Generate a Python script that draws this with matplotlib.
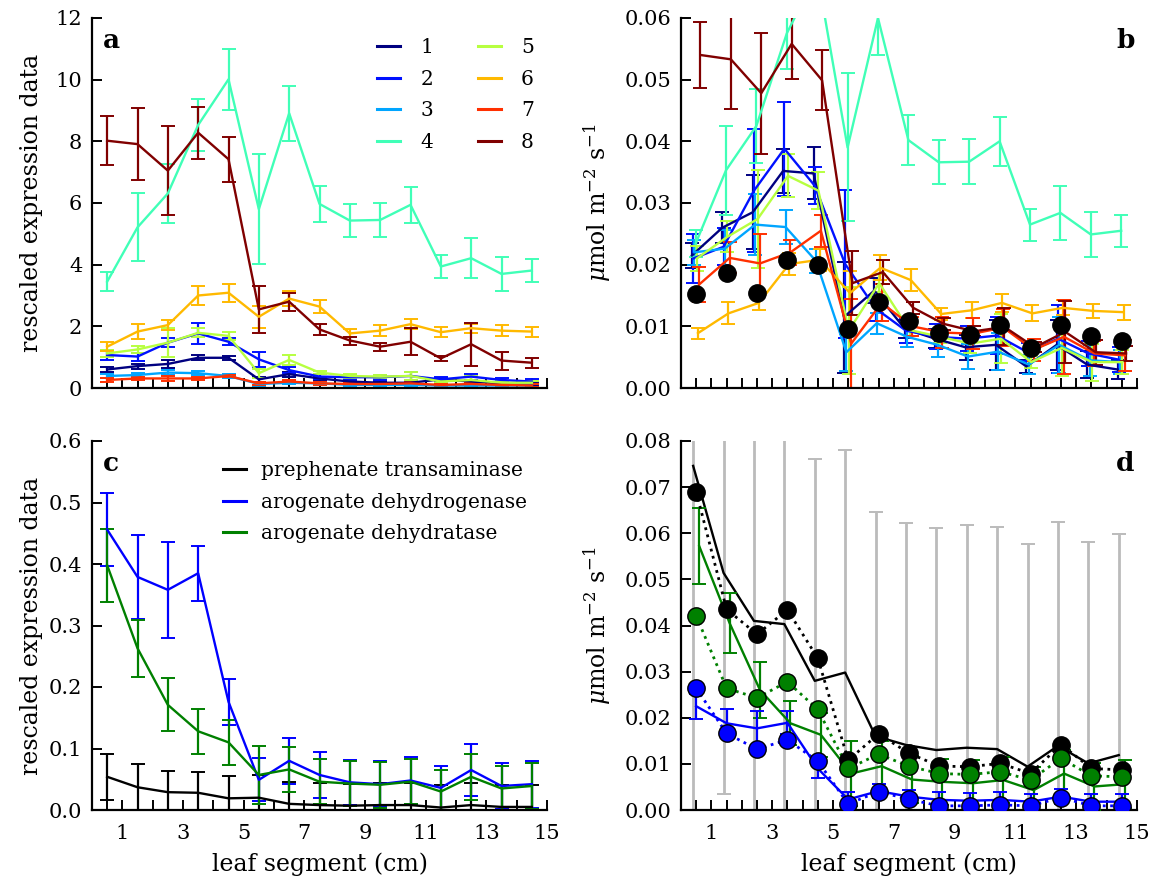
import matplotlib
matplotlib.use("Agg")
import matplotlib.pyplot as plt
from matplotlib.lines import Line2D
import numpy as np

plt.rcParams['font.family'] = ['DejaVu Serif']
plt.rcParams['mathtext.fontset'] = 'dejavuserif'

# leaf segment centres (cm)
segment = [0.5, 1.5, 2.5, 3.5, 4.5, 5.5, 6.5, 7.5, 8.5, 9.5, 10.5, 11.5, 12.5, 13.5, 14.5]

# ---- panel a: rescaled expression data, genes 1..8
a_labels = ['1', '2', '3', '4', '5', '6', '7', '8']
a1 = [0.60, 0.71, 0.78, 0.98, 0.98, 0.28, 0.45, 0.31, 0.21, 0.17, 0.17, 0.28, 0.21, 0.15, 0.13]
a1_err = [0.08, 0.08, 0.12, 0.08, 0.07, 0.08, 0.08, 0.06, 0.05, 0.05, 0.05, 0.06, 0.05, 0.05, 0.05]
a2 = [1.07, 1.02, 1.47, 1.77, 1.50, 0.93, 0.58, 0.37, 0.35, 0.35, 0.39, 0.28, 0.37, 0.26, 0.21]
a2_err = [0.16, 0.13, 0.15, 0.35, 0.12, 0.25, 0.10, 0.08, 0.08, 0.08, 0.13, 0.08, 0.10, 0.08, 0.08]
a3 = [0.39, 0.42, 0.50, 0.48, 0.39, 0.13, 0.17, 0.15, 0.10, 0.10, 0.10, 0.08, 0.08, 0.08, 0.08]
a3_err = [0.06, 0.06, 0.08, 0.07, 0.05, 0.05, 0.05, 0.05, 0.04, 0.04, 0.04, 0.04, 0.04, 0.04, 0.04]
a4 = [3.45, 5.21, 6.31, 8.53, 10.01, 5.80, 8.91, 5.97, 5.43, 5.45, 5.94, 3.94, 4.21, 3.70, 3.81]
a4_err = [0.32, 1.10, 0.95, 0.84, 1.00, 1.78, 0.90, 0.58, 0.54, 0.54, 0.58, 0.38, 0.65, 0.55, 0.38]
a5 = [1.12, 1.25, 1.47, 1.79, 1.69, 0.48, 0.91, 0.50, 0.39, 0.37, 0.39, 0.21, 0.26, 0.17, 0.17]
a5_err = [0.12, 0.12, 0.46, 0.15, 0.12, 0.15, 0.15, 0.06, 0.05, 0.05, 0.12, 0.05, 0.12, 0.05, 0.05]
a6 = [1.34, 1.83, 2.04, 3.00, 3.09, 2.31, 2.90, 2.64, 1.77, 1.86, 2.07, 1.81, 1.94, 1.86, 1.83]
a6_err = [0.15, 0.25, 0.17, 0.30, 0.29, 0.35, 0.25, 0.22, 0.13, 0.18, 0.17, 0.16, 0.15, 0.17, 0.16]
a7 = [0.26, 0.31, 0.31, 0.31, 0.39, 0.15, 0.21, 0.15, 0.13, 0.13, 0.15, 0.10, 0.13, 0.10, 0.08]
a7_err = [0.06, 0.06, 0.08, 0.05, 0.04, 0.05, 0.05, 0.04, 0.04, 0.04, 0.04, 0.04, 0.04, 0.04, 0.04]
a8 = [8.02, 7.91, 7.05, 8.28, 7.42, 2.55, 2.80, 1.90, 1.54, 1.34, 1.50, 0.96, 1.42, 0.89, 0.82]
a8_err = [0.80, 1.16, 1.45, 0.84, 0.73, 0.76, 0.29, 0.18, 0.13, 0.13, 0.44, 0.09, 0.70, 0.29, 0.16]

# ---- panel b: flux (umol m-2 s-1), genes 1..8 plus measured (black dots)
b1 = [0.0215, 0.0260, 0.0285, 0.0352, 0.0348, 0.0115, 0.0158, 0.0096, 0.0080, 0.0066, 0.0070, 0.0035, 0.0070, 0.0038, 0.0030]
b1_err = [0.0020, 0.0025, 0.0060, 0.0035, 0.0042, 0.0090, 0.0020, 0.0015, 0.0015, 0.0020, 0.0040, 0.0010, 0.0040, 0.0022, 0.0015]
b2 = [0.0210, 0.0229, 0.0320, 0.0388, 0.0328, 0.0201, 0.0129, 0.0093, 0.0083, 0.0080, 0.0085, 0.0058, 0.0080, 0.0056, 0.0046]
b2_err = [0.0040, 0.0030, 0.0100, 0.0076, 0.0030, 0.0120, 0.0020, 0.0020, 0.0020, 0.0020, 0.0030, 0.0015, 0.0055, 0.0020, 0.0020]
b3 = [0.0220, 0.0226, 0.0265, 0.0261, 0.0206, 0.0058, 0.0105, 0.0083, 0.0070, 0.0051, 0.0059, 0.0038, 0.0070, 0.0045, 0.0042]
b3_err = [0.0020, 0.0030, 0.0050, 0.0028, 0.0020, 0.0030, 0.0017, 0.0016, 0.0020, 0.0020, 0.0030, 0.0015, 0.0045, 0.0025, 0.0020]
b4 = [0.0234, 0.0353, 0.0425, 0.0575, 0.0673, 0.0390, 0.0600, 0.0402, 0.0366, 0.0367, 0.0400, 0.0265, 0.0284, 0.0249, 0.0255]
b4_err = [0.0022, 0.0072, 0.0060, 0.0057, 0.0067, 0.0120, 0.0060, 0.0040, 0.0036, 0.0036, 0.0040, 0.0026, 0.0044, 0.0037, 0.0026]
b5 = [0.0210, 0.0245, 0.0274, 0.0344, 0.0320, 0.0093, 0.0170, 0.0094, 0.0083, 0.0072, 0.0080, 0.0042, 0.0065, 0.0042, 0.0042]
b5_err = [0.0020, 0.0025, 0.0080, 0.0035, 0.0030, 0.0070, 0.0015, 0.0010, 0.0010, 0.0015, 0.0040, 0.0010, 0.0045, 0.0030, 0.0020]
b6 = [0.0089, 0.0121, 0.0138, 0.0201, 0.0208, 0.0154, 0.0195, 0.0175, 0.0120, 0.0126, 0.0138, 0.0121, 0.0130, 0.0125, 0.0123]
b6_err = [0.0009, 0.0018, 0.0012, 0.0018, 0.0018, 0.0035, 0.0020, 0.0018, 0.0010, 0.0013, 0.0014, 0.0013, 0.0012, 0.0012, 0.0012]
b7 = [0.0168, 0.0211, 0.0202, 0.0220, 0.0255, 0.0072, 0.0138, 0.0100, 0.0090, 0.0088, 0.0098, 0.0062, 0.0083, 0.0056, 0.0053]
b7_err = [0.0028, 0.0025, 0.0047, 0.0020, 0.0026, 0.0072, 0.0030, 0.0015, 0.0025, 0.0025, 0.0030, 0.0018, 0.0060, 0.0020, 0.0025]
b8 = [0.0540, 0.0533, 0.0478, 0.0558, 0.0499, 0.0170, 0.0188, 0.0130, 0.0104, 0.0092, 0.0099, 0.0066, 0.0091, 0.0058, 0.0056]
b8_err = [0.0054, 0.0080, 0.0098, 0.0057, 0.0049, 0.0052, 0.0020, 0.0010, 0.0010, 0.0008, 0.0030, 0.0008, 0.0050, 0.0020, 0.0012]
b_measured = [0.0152, 0.0186, 0.0154, 0.0208, 0.0199, 0.0096, 0.0139, 0.0108, 0.0090, 0.0086, 0.0102, 0.0065, 0.0102, 0.0084, 0.0076]

# ---- panel c: rescaled expression of three enzymes
c_labels = ['prephenate transaminase', 'arogenate dehydrogenase', 'arogenate dehydratase']
c_pt = [0.054, 0.037, 0.029, 0.028, 0.019, 0.020, 0.010, 0.008, 0.007, 0.008, 0.008, 0.004, 0.008, 0.005, 0.005]
c_pt_err = [0.037, 0.037, 0.035, 0.034, 0.036, 0.037, 0.036, 0.036, 0.036, 0.036, 0.036, 0.036, 0.036, 0.036, 0.036]
c_adh = [0.456, 0.379, 0.358, 0.385, 0.176, 0.049, 0.080, 0.057, 0.045, 0.042, 0.048, 0.036, 0.065, 0.039, 0.042]
c_adh_err = [0.060, 0.068, 0.078, 0.045, 0.037, 0.035, 0.037, 0.037, 0.037, 0.037, 0.038, 0.036, 0.043, 0.037, 0.038]
c_adt = [0.398, 0.263, 0.171, 0.128, 0.110, 0.057, 0.066, 0.046, 0.043, 0.041, 0.046, 0.030, 0.054, 0.035, 0.039]
c_adt_err = [0.059, 0.046, 0.043, 0.037, 0.037, 0.047, 0.037, 0.037, 0.037, 0.037, 0.037, 0.035, 0.037, 0.037, 0.037]

# ---- panel d: predicted (lines) vs measured (dots) flux
d_pt_pred = [0.0746, 0.0514, 0.0410, 0.0403, 0.0280, 0.0298, 0.0160, 0.0141, 0.0130, 0.0135, 0.0132, 0.0094, 0.0139, 0.0101, 0.0119]
d_pt_err = [0.0850, 0.0480, 0.0482, 0.0482, 0.0482, 0.0482, 0.0485, 0.0482, 0.0482, 0.0483, 0.0482, 0.0482, 0.0486, 0.0479, 0.0480]
d_pt_meas = [0.0690, 0.0435, 0.0381, 0.0434, 0.0329, 0.0108, 0.0165, 0.0123, 0.0095, 0.0094, 0.0101, 0.0079, 0.0142, 0.0090, 0.0087]
d_adt_pred = [0.0572, 0.0405, 0.0260, 0.0188, 0.0163, 0.0079, 0.0095, 0.0066, 0.0061, 0.0058, 0.0065, 0.0043, 0.0079, 0.0051, 0.0056]
d_adt_err = [0.0083, 0.0065, 0.0060, 0.0048, 0.0048, 0.0070, 0.0055, 0.0050, 0.0050, 0.0050, 0.0050, 0.0050, 0.0050, 0.0050, 0.0052]
d_adt_meas = [0.0421, 0.0264, 0.0243, 0.0278, 0.0218, 0.0090, 0.0121, 0.0095, 0.0079, 0.0077, 0.0083, 0.0065, 0.0112, 0.0074, 0.0072]
d_adh_pred = [0.0225, 0.0188, 0.0177, 0.0189, 0.0090, 0.0023, 0.0041, 0.0029, 0.0022, 0.0020, 0.0022, 0.0018, 0.0029, 0.0018, 0.0018]
d_adh_err = [0.0027, 0.0032, 0.0038, 0.0025, 0.0020, 0.0017, 0.0015, 0.0015, 0.0016, 0.0016, 0.0016, 0.0016, 0.0016, 0.0016, 0.0016]
d_adh_meas = [0.0264, 0.0166, 0.0132, 0.0152, 0.0106, 0.0013, 0.0040, 0.0023, 0.0009, 0.0009, 0.0011, 0.0009, 0.0027, 0.0009, 0.0009]

FLUX_LABEL = r'$\mu$mol m$^{-2}$ s$^{-1}$'
FS = 15      # tick labels
LFS = 17     # axis labels
LEG_FS = 14.5
LW = 1.7


def style_axis(ax, ymax, ystep, yfmt, show_xlabels):
    ax.spines['top'].set_visible(False)
    ax.spines['right'].set_visible(False)
    for s in ('left', 'bottom'):
        ax.spines[s].set_linewidth(1.6)
    ax.set_xlim(0, 15)
    ax.set_ylim(0, ymax)
    xt = np.arange(0, 15.01, 0.5)
    ax.set_xticks(xt)
    ax.set_xticklabels([str(int(t)) if (t % 2 == 1) else '' for t in xt])
    yt = np.arange(0, ymax + ystep / 2, ystep)
    ax.set_yticks(yt)
    ax.set_yticklabels([yfmt.format(v) for v in yt])
    ax.tick_params(direction='in', length=7, width=1.4, labelsize=FS, top=False, right=False)
    ax.tick_params(axis='x', pad=10)
    ax.tick_params(axis='y', pad=7)
    if show_xlabels:
        ax.set_xlabel('leaf segment (cm)', fontsize=LFS)
        ax.xaxis.set_label_coords(0.5, -0.115)
    else:
        ax.tick_params(axis='x', labelbottom=False)


def panel_tag(ax, letter):
    ax.text(0.042 if letter in 'ac' else 0.974, 0.94, letter, transform=ax.transAxes,
            ha='center', va='center', fontsize=19, fontweight='bold')


def line_handles(colors, labels):
    return [Line2D([0], [0], color=c, lw=2.2, label=l) for c, l in zip(colors, labels)]


fig = plt.figure(figsize=(11.56, 8.84), dpi=100)
W, H = 1156, 884
ax_a = fig.add_axes([92 / W, 1 - 388 / H, 455 / W, 370 / H])
ax_b = fig.add_axes([681 / W, 1 - 388 / H, 456 / W, 370 / H])
ax_c = fig.add_axes([92 / W, 1 - 810 / H, 455 / W, 369 / H])
ax_d = fig.add_axes([681 / W, 1 - 810 / H, 456 / W, 369 / H])

colors = plt.cm.jet(np.linspace(0, 1, 8))
x = np.array(segment)

# panel a
a_series = [a1, a2, a3, a4, a5, a6, a7, a8]
a_errs = [a1_err, a2_err, a3_err, a4_err, a5_err, a6_err, a7_err, a8_err]
for i, (y, e) in enumerate(zip(a_series, a_errs)):
    ax_a.errorbar(x, y, yerr=e, color=colors[i], lw=LW, capsize=5, capthick=1.4, elinewidth=1.6)
style_axis(ax_a, 12, 2, '{:.0f}', False)
ax_a.set_ylabel('rescaled expression data', fontsize=LFS)
ax_a.yaxis.set_label_coords(-0.108, 0.5)
ax_a.legend(handles=line_handles(colors, a_labels), ncol=2, loc='upper left',
            bbox_to_anchor=(0.627, 0.945), frameon=False, fontsize=LEG_FS, handlelength=1.15,
            handletextpad=1.0, columnspacing=2.2, labelspacing=0.62, borderpad=0, borderaxespad=0)
panel_tag(ax_a, 'a')

# panel b (series slightly shifted sideways so the bars do not overlap)
b_series = [b1, b2, b3, b4, b5, b6, b7, b8]
b_errs = [b1_err, b2_err, b3_err, b4_err, b5_err, b6_err, b7_err, b8_err]
shifts = np.linspace(-0.14, 0.14, 8)
for i, (y, e) in enumerate(zip(b_series, b_errs)):
    ax_b.errorbar(x + shifts[i], y, yerr=e, color=colors[i], lw=LW, capsize=5, capthick=1.4,
                  elinewidth=1.6)
ax_b.plot(x, b_measured, 'o', color='black', ms=12.5, zorder=10)
style_axis(ax_b, 0.06, 0.01, '{:.2f}', False)
ax_b.set_ylabel(FLUX_LABEL, fontsize=LFS)
ax_b.yaxis.set_label_coords(-0.15, 0.5)
panel_tag(ax_b, 'b')

# panel c
c_series = [c_pt, c_adh, c_adt]
c_errs = [c_pt_err, c_adh_err, c_adt_err]
c_colors = ['black', 'blue', 'green']
for y, e, col in zip(c_series, c_errs, c_colors):
    ax_c.errorbar(x, y, yerr=e, color=col, lw=LW, capsize=5, capthick=1.4, elinewidth=1.6)
style_axis(ax_c, 0.6, 0.1, '{:.1f}', True)
ax_c.set_ylabel('rescaled expression data', fontsize=LFS)
ax_c.yaxis.set_label_coords(-0.108, 0.5)
ax_c.legend(handles=line_handles(c_colors, c_labels), loc='upper left',
            bbox_to_anchor=(0.287, 0.945), frameon=False, fontsize=LEG_FS, handlelength=1.15,
            handletextpad=0.75, labelspacing=0.62, borderpad=0, borderaxespad=0)
panel_tag(ax_c, 'c')

# panel d
ax_d.errorbar(x - 0.1, d_pt_pred, yerr=d_pt_err, fmt='none', ecolor='#bbbbbb', elinewidth=2,
              capsize=5, capthick=1.4, zorder=1)
ax_d.plot(x - 0.1, d_pt_pred, color='black', lw=LW, zorder=3)
ax_d.errorbar(x + 0.1, d_adt_pred, yerr=d_adt_err, color='green', lw=LW, capsize=5,
              capthick=1.4, elinewidth=1.6, zorder=3)
ax_d.errorbar(x, d_adh_pred, yerr=d_adh_err, color='blue', lw=LW, capsize=5,
              capthick=1.4, elinewidth=1.6, zorder=3)
for meas, col in [(d_pt_meas, 'black'), (d_adt_meas, 'green'), (d_adh_meas, 'blue')]:
    ax_d.plot(x, meas, ':', color=col, lw=2, zorder=4)
    ax_d.plot(x, meas, 'o', color=col, mec='black', mew=1, ms=12.5, zorder=5)
style_axis(ax_d, 0.08, 0.01, '{:.2f}', True)
ax_d.set_ylabel(FLUX_LABEL, fontsize=LFS)
ax_d.yaxis.set_label_coords(-0.15, 0.5)
panel_tag(ax_d, 'd')

fig.savefig('out.png', dpi=100)
